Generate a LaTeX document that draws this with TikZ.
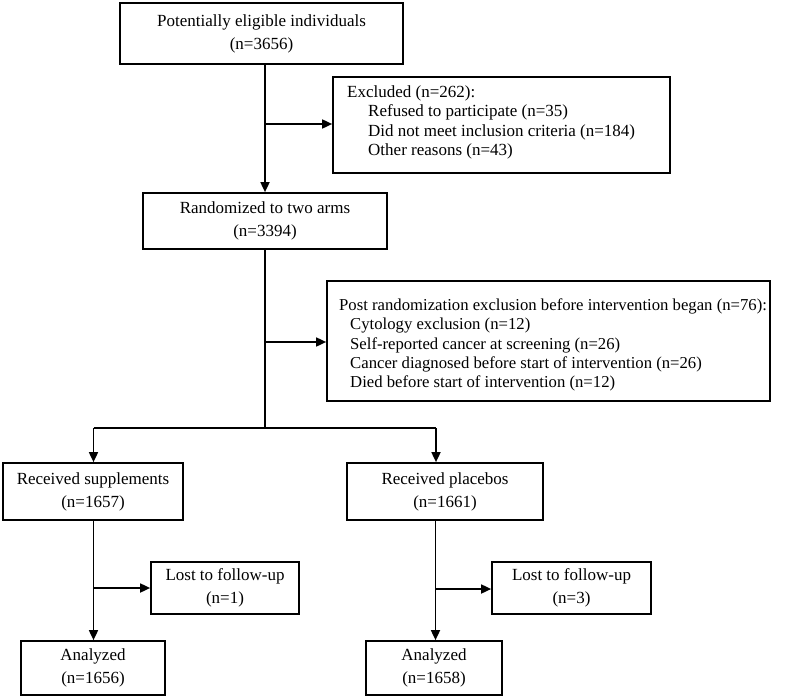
\documentclass[tikz,border=0pt]{standalone}
\usepackage{fontspec}
\setmainfont{Liberation Serif}
\usetikzlibrary{arrows.meta}
\begin{document}
\begin{tikzpicture}[x=1pt,y=-1pt,
  box/.style={draw=black,line width=1.7pt,inner sep=0pt,minimum height=#1},
  box/.default=56pt,
  lbl/.style={inner sep=0pt,font=\fontsize{17}{23}\selectfont,align=center},
  lst/.style={inner sep=0pt,anchor=west,font=\fontsize{17}{19.6}\selectfont,align=left},
  conn/.style={draw=black,line width=1.7pt},
  arr/.style={conn,-{Triangle[length=10pt,width=9pt]}}]
\useasboundingbox (0,0) rectangle (800,698);
% boxes
\node[box=61pt,minimum width=283pt] (b1) at (261.5,33.5) {};
\node[lbl] (t1) at (b1.center) {Potentially eligible individuals\\(n=3656)};
\node[box=96pt,minimum width=337pt] (ex) at (501.5,125) {};
\node[lst] (tex) at (347,122.5) {Excluded (n=262):\\\hspace*{21pt}Refused to participate (n=35)\\\hspace*{21pt}Did not meet inclusion criteria (n=184)\\\hspace*{21pt}Other reasons (n=43)};
\node[box=56pt,minimum width=244pt] (b2) at (265,221) {};
\node[lbl] (t2) at (b2.center) {Randomized to two arms\\(n=3394)};
\node[box=120pt,minimum width=443pt] (po) at (548.5,341) {};
\node[lst,font=\fontsize{16.7}{19.4}\selectfont] (tpo) at (339,345) {Post randomization exclusion before intervention began (n=76):\\\hspace*{11pt}Cytology exclusion (n=12)\\\hspace*{11pt}Self-reported cancer at screening (n=26)\\\hspace*{11pt}Cancer diagnosed before start of intervention (n=26)\\\hspace*{11pt}Died before start of intervention (n=12)};
\node[box=57pt,minimum width=180pt] (su) at (93,491.5) {};
\node[lbl] (tsu) at (su.center) {Received supplements\\(n=1657)};
\node[box=57pt,minimum width=196pt] (pl) at (445,491.5) {};
\node[lbl] (tpl) at (pl.center) {Received placebos\\(n=1661)};
\node[box=52pt,minimum width=148pt] (l1) at (225,588) {};
\node[lbl] (tl1) at (l1.center) {Lost to follow-up\\(n=1)};
\node[box=52pt,minimum width=159pt] (l2) at (571.5,588) {};
\node[lbl] (tl2) at (l2.center) {Lost to follow-up\\(n=3)};
\node[box=54pt,minimum width=144pt] (a1) at (93,668) {};
\node[lbl] (ta1) at (a1.center) {Analyzed\\(n=1656)};
\node[box=54pt,minimum width=136pt] (a2) at (434,668) {};
\node[lbl] (ta2) at (a2.center) {Analyzed\\(n=1658)};
% junctions
\coordinate (j1) at (265,124);
\coordinate (j2) at (265,342);
\coordinate (j3) at (265,428);
\coordinate (jl) at (93.5,428);
\coordinate (jr) at (436,428);
\coordinate (j4) at (93.5,588);
\coordinate (j5) at (435.5,589);
% connectors
\draw[arr] (b1.south -| j1) -- (b2.north -| j1);
\draw[arr] (j1) -- (ex.west |- j1);
\draw[conn] (b2.south -| j2) -- (j3);
\draw[arr] (j2) -- (po.west |- j2);
\draw[conn] (jl) -- (jr);
\draw[arr] (jl) -- (su.north -| jl);
\draw[arr] (jr) -- (pl.north -| jr);
\draw[arr] (su.south -| j4) -- (a1.north -| j4);
\draw[arr] (j4) -- (l1.west |- j4);
\draw[arr] (pl.south -| j5) -- (a2.north -| j5);
\draw[arr] (j5) -- (l2.west |- j5);
\end{tikzpicture}
\end{document}
